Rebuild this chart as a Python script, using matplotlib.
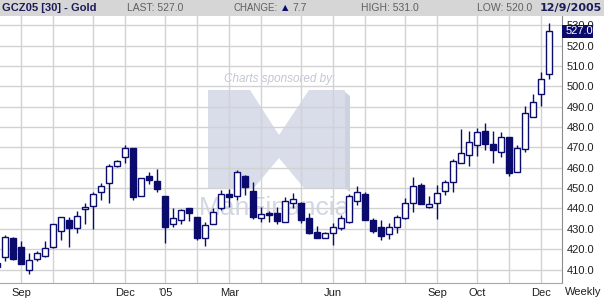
import matplotlib
matplotlib.use('Agg')
import matplotlib.pyplot as plt
import matplotlib.transforms as mtransforms
from matplotlib.patches import Rectangle, Polygon
import numpy as np
import pandas as pd

# weekly GCZ05 bars, first one is only partly visible at the left edge
last_date = '2005-12-09'
opens = [413.3, 416.3, 425.3, 421.1, 409.8, 415.0, 416.8, 421.2, 428.8, 434.2,
         430.5, 439.6, 441.4, 447.9, 452.4, 460.7, 465.1, 469.6, 446.3, 455.8,
         453.5, 446.0, 432.2, 434.3, 440.1, 435.6, 425.3, 432.4, 440.1, 447.1,
         446.1, 456.0, 448.6, 435.2, 437.6, 437.6, 433.2, 442.8, 442.8, 435.4,
         428.4, 425.3, 427.8, 430.2, 433.2, 443.7, 447.0, 434.3, 430.7, 427.3,
         430.7, 435.4, 442.8, 451.5, 440.9, 442.5, 448.7, 453.2, 462.5, 466.3,
         471.2, 478.2, 471.8, 467.9, 475.0, 457.8, 469.4, 484.8, 496.1, 505.9]
highs = [414.5, 427.0, 425.8, 424.0, 418.3, 419.2, 424.0, 432.2, 435.6, 435.6,
         438.7, 442.5, 448.2, 452.7, 461.8, 463.8, 471.2, 469.6, 455.0, 457.8,
         459.4, 446.3, 440.1, 439.7, 440.1, 435.6, 433.5, 440.1, 449.1, 449.4,
         458.9, 456.4, 453.0, 440.9, 438.7, 440.9, 445.8, 447.4, 443.0, 437.6,
         431.4, 428.5, 432.7, 436.8, 447.0, 451.0, 448.2, 435.4, 434.3, 432.7,
         436.8, 445.3, 455.3, 452.7, 446.1, 451.5, 454.0, 464.3, 479.2, 478.2,
         479.4, 481.8, 478.2, 477.8, 475.0, 471.2, 490.5, 496.1, 506.9, 531.0]
lows = [410.5, 414.3, 414.7, 412.6, 407.8, 414.3, 416.0, 420.4, 424.5, 421.2,
        427.8, 432.4, 429.9, 444.2, 442.8, 460.2, 462.2, 444.2, 446.3, 451.9,
        447.9, 422.9, 431.0, 432.2, 433.8, 424.5, 421.5, 432.4, 439.2, 440.6,
        444.2, 446.6, 434.7, 433.5, 433.5, 432.2, 433.2, 440.1, 432.7, 427.3,
        425.3, 425.3, 422.0, 429.4, 432.7, 441.7, 434.3, 428.1, 424.5, 425.0,
        427.8, 434.7, 438.4, 442.0, 440.4, 434.7, 446.6, 448.2, 462.2, 461.0,
        465.9, 468.7, 462.2, 465.1, 456.1, 457.8, 467.9, 484.8, 490.5, 503.5]
closes = [411.1, 425.8, 415.3, 412.6, 414.7, 418.0, 420.4, 432.2, 435.6, 430.5,
          436.1, 440.6, 447.0, 451.2, 460.7, 463.3, 469.6, 445.8, 454.8, 454.1,
          449.7, 431.0, 435.2, 439.1, 437.6, 425.3, 431.7, 438.4, 447.0, 445.5,
          457.8, 450.4, 435.6, 437.3, 436.8, 433.8, 443.5, 444.5, 434.3, 428.1,
          425.3, 428.1, 431.0, 435.2, 446.1, 447.9, 434.3, 429.1, 426.6, 431.0,
          435.9, 442.8, 451.2, 442.0, 442.0, 447.4, 452.9, 463.3, 467.1, 472.5,
          477.8, 471.7, 468.5, 474.9, 457.3, 469.6, 486.8, 492.2, 503.5, 527.0]

price_ticks = [410, 420, 430, 440, 450, 460, 470, 480, 490, 500, 510, 520, 530]
label_months = ['2004-09', '2004-12', '2005-01', '2005-03', '2005-06',
                '2005-09', '2005-10', '2005-12']
month_labels = ['Sep', 'Dec', "'05", 'Mar', 'Jun', 'Sep', 'Oct', 'Dec']
last_price = 527.0

navy = '#0b0b6e'
grid_c = '#d2d2d2'
txt_c = '#1e1e1e'
font = ['Liberation Sans', 'DejaVu Sans']

dates = pd.date_range(end=last_date, periods=len(opens), freq='W-FRI')
xs = np.arange(len(opens)) - 1
o = np.array(opens); c = np.array(closes)

fig = plt.figure(figsize=(6.04, 2.99), dpi=100)
fig.patch.set_facecolor('white')
ax = fig.add_axes([0, 16 / 299, 562 / 604, 267 / 299])
ax.set_xlim(-0.66, 69.59)
ax.set_ylim(403.37, 534.57)

# pixel transform for the watermark (origin top-left)
px = mtransforms.Affine2D().scale(1 / 604, -1 / 299).translate(0, 1) + fig.transFigure
logo = Polygon([(208, 90), (250, 90), (279, 135), (309, 90), (345, 90), (345, 188),
                (304, 188), (279, 158), (254, 188), (208, 188)],
               closed=True, transform=px, facecolor='#d9dde9', edgecolor='none', zorder=0.2)
ax.add_patch(logo)
ax.add_patch(Polygon([(345, 92), (350, 96), (350, 192), (345, 188)], closed=True, transform=px,
                     facecolor='#cdd2e0', edgecolor='none', zorder=0.2))
ax.text(280, 79, 'Charts sponsored by:', transform=px, ha='center', va='center',
        fontsize=8.5, style='italic', color='#c3c7d4', family=font, zorder=0.3)
ax.text(199, 208, 'ManFinancial', transform=px, ha='left', va='center',
        fontsize=19, color='#d3d7e4', family=font, zorder=0.3)

# grid
for p in price_ticks:
    ax.axhline(p, color=grid_c, lw=1, zorder=1)
month_start = [i for i in range(1, len(dates)) if dates[i].month != dates[i - 1].month]
for i in month_start:
    ax.axvline(xs[i], color=grid_c, lw=1, zorder=1)

# candles
ax.vlines(xs, lows, highs, color=navy, lw=1, zorder=3)
up = c >= o
face = np.where(up, 'white', navy)
ax.bar(xs, np.where(np.abs(c - o) < 0.6, 0.6, np.abs(c - o)), bottom=np.minimum(o, c),
       width=0.78, color=face, edgecolor=navy, linewidth=1, zorder=4)

# axes
for s in ['top', 'left']:
    ax.spines[s].set_visible(False)
ax.spines['right'].set_color('#8c8c8c')
ax.spines['bottom'].set_color('#a8a8a8')
ax.yaxis.tick_right()
ax.set_yticks(price_ticks)
ax.set_yticklabels(['%.1f' % p for p in price_ticks])
tick_pos = [xs[np.where((dates.year == int(m[:4])) & (dates.month == int(m[5:])))[0][0]]
            for m in label_months]
ax.set_xticks(tick_pos)
ax.set_xticklabels(month_labels)
ax.tick_params(axis='both', length=0, labelsize=8, labelcolor=txt_c)
ax.tick_params(axis='y', pad=3.5)
ax.tick_params(axis='x', pad=3.5)
for t in ax.get_xticklabels() + ax.get_yticklabels():
    t.set_family(font)

# last price box
blend = mtransforms.blended_transform_factory(ax.transAxes, ax.transData)
ax.add_patch(Rectangle((1.0, last_price - 3.1), 31 / 562, 6.2, transform=blend,
                       facecolor=navy, edgecolor='none', clip_on=False, zorder=10))
ax.text(1.0 + 4 / 562, last_price, '%.1f' % last_price, transform=blend, ha='left',
        va='center', fontsize=8, color='white', family=font, clip_on=False, zorder=11)

fig.text(583 / 604, 1 - 292 / 299, 'Weekly', ha='center', va='center', fontsize=8,
         color=txt_c, family=font)

# header bar
fig.patches.append(Rectangle((0, 1 - 16 / 299), 1, 16 / 299, transform=fig.transFigure,
                             facecolor='#d6d6d6', edgecolor='none', zorder=0))
hy = 1 - 8 / 299
hc = '#606060'
fig.text(2 / 604, hy, 'GCZ05 [30] - Gold', ha='left', va='center', fontsize=8,
         weight='bold', color='#1c1c5a', family=font)
fig.text(127 / 604, hy, 'LAST: 527.0', ha='left', va='center', fontsize=7.5, color=hc, family=font)
fig.text(233 / 604, hy, 'CHANGE:', ha='left', va='center', fontsize=7, color=hc, family=font)
fig.text(282 / 604, hy, '\u25b2', ha='left', va='center', fontsize=6, color=navy,
         family=['DejaVu Sans'])
fig.text(292 / 604, hy, '7.7', ha='left', va='center', fontsize=7.5, color=hc, family=font)
fig.text(361 / 604, hy, 'HIGH: 531.0', ha='left', va='center', fontsize=7.5, color=hc, family=font)
fig.text(477 / 604, hy, 'LOW: 520.0', ha='left', va='center', fontsize=7.5, color=hc, family=font)
fig.text(602 / 604, hy, '12/9/2005', ha='right', va='center', fontsize=8, weight='bold',
         color='#1c1c5a', family=['DejaVu Sans'])

fig.savefig('out.png', dpi=100)
